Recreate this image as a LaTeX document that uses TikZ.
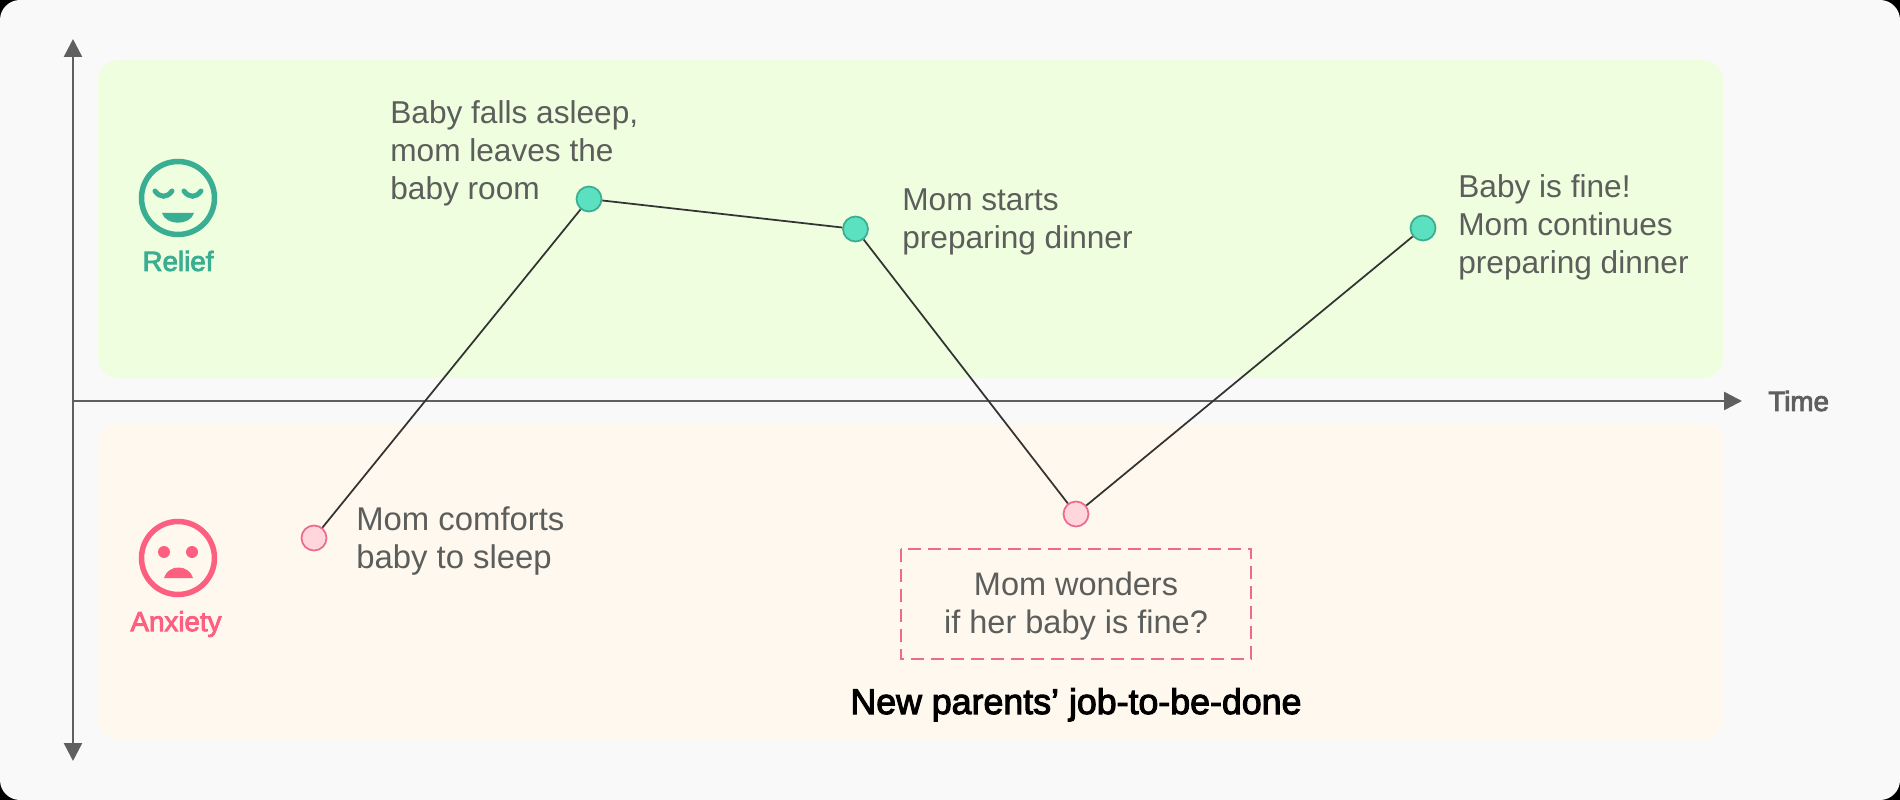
\documentclass[tikz,border=0pt]{standalone}
\usepackage{fontspec}
\usepackage{xcolor}
\usetikzlibrary{arrows.meta}
\setmainfont{Liberation Sans}
\newfontfamily\medfont[FakeBold=3]{Liberation Sans}
\definecolor{pagebg}{HTML}{F9F9F9}
\definecolor{reliefbg}{HTML}{EFFEDE}
\definecolor{anxietybg}{HTML}{FFF8EE}
\definecolor{axisgray}{HTML}{5F5F5F}
\definecolor{textgray}{HTML}{5C5E5C}
\definecolor{reliefgreen}{HTML}{3AAE92}
\definecolor{anxietyred}{HTML}{FD5F80}
\definecolor{reliefdot}{HTML}{5BE0C0}
\definecolor{anxietydot}{HTML}{FFD6DC}
\definecolor{anxietyrim}{HTML}{EE6A8C}
\tikzset{%
	axis/.style       = {draw=axisgray, line width=0.05cm, -{Triangle[length=0.36cm,width=0.36cm]}},
	curve/.style      = {draw=black!80, line width=0.035cm},
	reliefpoint/.style  = {circle, draw=reliefgreen, fill=reliefdot, line width=0.035cm, minimum size=0.5cm, inner sep=0pt},
	anxietypoint/.style = {circle, draw=anxietyrim, fill=anxietydot, line width=0.035cm, minimum size=0.5cm, inner sep=0pt},
	note/.style       = {align=left, text=textgray, font=\fontsize{18}{21.6}\selectfont, inner sep=0pt},
	mood/.style       = {font=\medfont\fontsize{15.8}{18}\selectfont, inner sep=0pt},
	faceline/.style   = {line width=0.11cm},
}
\begin{document}
\begin{tikzpicture}[x=0.02cm,y=-0.02cm]
	\useasboundingbox (0,0) rectangle (1900,800);
	\fill[black] (0,0) rectangle (1900,800);
	\fill[pagebg, rounded corners=0.4cm] (0,0) rectangle (1900,800);
	\fill[reliefbg, rounded corners=0.4cm] (98,60) rectangle (1723,378);
	\fill[anxietybg, rounded corners=0.4cm] (98,423) rectangle (1723,740);

	\coordinate (top) at (73,39);
	\coordinate (bottom) at (73,761);
	\coordinate (origin) at (73,401);
	\coordinate (right) at (1742,401);
	\draw[axis, {Triangle[length=0.36cm,width=0.36cm]}-{Triangle[length=0.36cm,width=0.36cm]}] (top) -- (bottom);
	\draw[axis] (origin) -- (right);
	\node[mood, text=axisgray, anchor=base west] (time) at (1768,411) {Time};

	\draw[reliefgreen, faceline] (178,198) circle (36.5);
	\draw[reliefgreen, line width=0.1cm, line cap=round] (155,191) .. controls (160,198) and (167,198) .. (172,191);
	\draw[reliefgreen, line width=0.1cm, line cap=round] (184,191) .. controls (189,198) and (196,198) .. (201,191);
	\fill[reliefgreen] (162,213) .. controls (166,226) and (190,226) .. (194,213) -- cycle;
	\node[mood, text=reliefgreen] (relief) at (178,261) {Relief};

	\draw[anxietyred, faceline] (178,558) circle (36.5);
	\fill[anxietyred] (164,552) circle (6);
	\fill[anxietyred] (192,552) circle (6);
	\fill[anxietyred] (164,578) .. controls (168,564) and (189,564) .. (193,578) -- cycle;
	\node[mood, text=anxietyred] (anxiety) at (176,624) {Anxiety};

	\node[anxietypoint] (comfort) at (314,538) {};
	\node[reliefpoint] (asleep) at (589,199) {};
	\node[reliefpoint] (dinner) at (855.5,229) {};
	\node[anxietypoint] (wonder) at (1076,514) {};
	\node[reliefpoint] (fine) at (1423,228) {};
	\draw[curve] (comfort) -- (asleep) -- (dinner) -- (wonder) -- (fine);

	\node[note, anchor=west, font=\fontsize{18.7}{21.6}\selectfont] (comforttext) at (356,541) {Mom comforts\\baby to sleep};
	\node[note, anchor=west] (asleeptext) at (390,153) {Baby falls asleep,\\mom leaves the\\baby room};
	\node[note, anchor=west] (dinnertext) at (902,221.5) {Mom starts\\preparing dinner};
	\node[note, anchor=west] (finetext) at (1458,227.5) {Baby is fine!\\Mom continues\\preparing dinner};

	\draw[anxietyrim, line width=0.04cm, dash pattern=on 0.26cm off 0.14cm] (901,549) rectangle (1251,659);
	\node[note, align=center, font=\fontsize{18.5}{21.6}\selectfont] (wondertext) at (1076,606.5) {Mom wonders\\if her baby is fine?};
	\node[font=\medfont\fontsize{20.35}{24}\selectfont, inner sep=0pt, anchor=base] (job) at (1076,714) {New parents’ job-to-be-done};
\end{tikzpicture}
\end{document}
